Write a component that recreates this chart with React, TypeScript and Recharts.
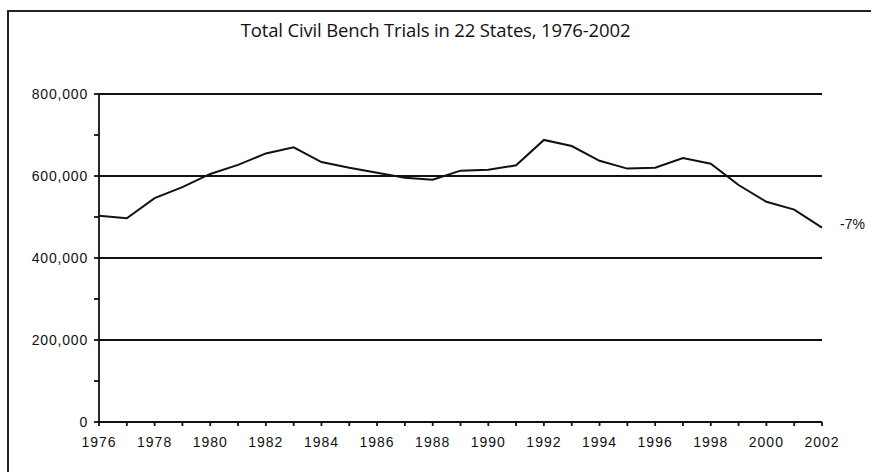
import React from "react";
import { LineChart, Line, XAxis, YAxis, ReferenceLine, LabelList } from "recharts";

const years = [1976, 1977, 1978, 1979, 1980, 1981, 1982, 1983, 1984, 1985, 1986, 1987, 1988, 1989, 1990, 1991, 1992, 1993, 1994, 1995, 1996, 1997, 1998, 1999, 2000, 2001, 2002];
const trials = [503000, 497000, 546000, 573000, 605000, 627000, 655000, 670000, 634000, 620000, 608000, 596000, 591000, 613000, 615000, 626000, 688000, 673000, 637000, 618000, 620000, 644000, 630000, 578000, 537000, 518000, 474000];
const xTicks = years;
const yTicks = [0, 100000, 200000, 300000, 400000, 500000, 600000, 700000, 800000];
const gridValues = [200000, 400000, 600000, 800000];
const title = "Total Civil Bench Trials in 22 States, 1976-2002";
const endLabel = "-7%";

const data = years.map((y, i) => ({ year: y, value: trials[i] }));

const fmtY = (v: number) => (v % 200000 === 0 ? v.toLocaleString("en-US") : "");
const fmtX = (v: number) => (v % 2 === 0 ? String(v) : "");

const FONT = "'Liberation Sans', Arial, sans-serif";

const EndLabel = (props: any) => {
  const { x, y, index } = props;
  if (index !== data.length - 1) return null;
  return (
    <text x={x + 18} y={y} dy={1} textAnchor="start" fontSize={14} fill="#111" style={{ fontFamily: FONT }}>
      {endLabel}
    </text>
  );
};

export default function App() {
  return (
    <div style={{ position: "absolute", left: 0, top: 0, width: 871, height: 472, overflow: "hidden", background: "#fff" }}>
      <div style={{ position: "absolute", left: 7, top: 10, width: 900, height: 500, borderLeft: "2px solid #222", borderTop: "2px solid #222" }} />
      <div style={{ position: "absolute", left: 0, top: 17, width: 871, textAlign: "center", fontFamily: "'Open Sans', sans-serif", fontSize: 18.5, color: "#111", letterSpacing: -0.15 }}>
        {title}
      </div>
      <div style={{ position: "absolute", left: 0, top: 0, fontFamily: FONT }}>
        <LineChart width={871} height={472} data={data} margin={{ top: 94, right: 49, bottom: 20, left: 9 }} style={{ fontFamily: FONT }}>
          {gridValues.map((g) => (
            <ReferenceLine key={g} y={g} stroke="#111" strokeWidth={1.8} />
          ))}
          <XAxis
            dataKey="year"
            type="number"
            domain={[1976, 2002]}
            ticks={xTicks}
            tickFormatter={fmtX}
            interval={0}
            height={30}
            tickSize={4}
            tickMargin={11}
            stroke="#111"
            strokeWidth={1.8}
            tick={{ fill: "#111", fontSize: 14, style: { fontFamily: FONT }, letterSpacing: 1 }}
          />
          <YAxis
            type="number"
            domain={[0, 800000]}
            ticks={yTicks}
            tickFormatter={fmtY}
            interval={0}
            width={90}
            tickSize={5}
            tickMargin={6}
            stroke="#111"
            strokeWidth={1.8}
            tick={{ fill: "#111", fontSize: 14, style: { fontFamily: FONT }, letterSpacing: 0.8 }}
          />
          <Line type="linear" dataKey="value" stroke="#111" strokeWidth={2} dot={false} isAnimationActive={false}>
            <LabelList dataKey="value" content={EndLabel} />
          </Line>
        </LineChart>
      </div>
    </div>
  );
}
